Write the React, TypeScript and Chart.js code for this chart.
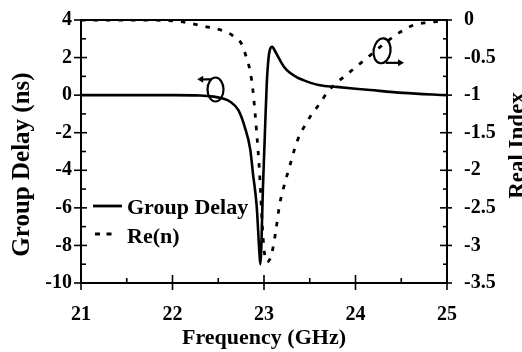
import React, { useEffect, useRef } from 'react';
import { Chart, registerables } from 'chart.js';

Chart.register(...registerables);

// ---- data ----
const groupDelayFreq = [
  21.0, 21.5, 22.0, 22.3, 22.45, 22.55, 22.63, 22.72, 22.79, 22.85, 22.88, 22.92, 22.95, 22.96,
  22.99, 23.01, 23.03, 23.05, 23.07, 23.09, 23.12, 23.17, 23.22, 23.28, 23.36, 23.43, 23.52,
  23.61, 23.79, 24.0, 24.16, 24.52, 25.0,
];
const groupDelayNs = [
  0, 0, 0, -0.02, -0.08, -0.18, -0.35, -0.8, -1.7, -2.9, -4.2, -5.9, -8.4, -9.0,
  -4.7, -2.0, 0.6, 2.0, 2.5, 2.58, 2.35, 1.9, 1.5, 1.2, 0.95, 0.8, 0.64,
  0.53, 0.44, 0.34, 0.27, 0.12, 0.0,
];
const reIndexFreq = [
  21.0, 21.5, 22.0, 22.2, 22.37, 22.52, 22.65, 22.76, 22.81, 22.85, 22.88, 22.92, 22.95, 22.98,
  23.0, 23.03, 23.07, 23.1, 23.13, 23.17, 23.21, 23.28, 23.36, 23.43, 23.52, 23.61, 23.7,
  23.81, 23.92, 24.03, 24.16, 24.36, 24.49, 24.63, 24.78, 24.92, 25.0,
];
const reIndexValues = [
  0, 0, -0.01, -0.045, -0.09, -0.13, -0.2, -0.33, -0.51, -0.69, -0.95, -1.5, -2.0, -2.7,
  -3.05, -3.22, -3.17, -3.02, -2.8, -2.46, -2.25, -1.95, -1.62, -1.44, -1.26, -1.11, -0.95,
  -0.82, -0.71, -0.6, -0.47, -0.27, -0.16, -0.07, -0.035, -0.02, -0.015,
];
const seriesNames = ['Group Delay', 'Re(n)'];
const xRange = [21, 25];
const leftRange = [-10, 4];
const rightRange = [-3.5, 0];
const xStep = 1;
const leftStep = 2;
const rightStep = 0.5;

// annotation loops (data units)
const leftLoop = { cx: 22.47, cy: 0.3, arrowY: 0.84, arrowFrom: 22.42, arrowTo: 22.27 };
const rightLoop = { cx: 24.29, cy: -0.41, arrowY: -0.57, arrowFrom: 24.33, arrowTo: 24.53 };

const FONT = "'Liberation Serif', 'Times New Roman', serif";

const fmt = (v: any) => String(Math.round(Number(v) * 100) / 100);

const decorPlugin = {
  id: 'decor',
  afterDraw(chart: any) {
    const { ctx, chartArea: ca, scales } = chart;
    const xs = scales.x;
    const yl = scales.y;
    const yr = scales.y2;
    ctx.save();
    ctx.strokeStyle = '#000';
    ctx.fillStyle = '#000';
    // top frame line
    ctx.lineWidth = 2;
    ctx.beginPath();
    ctx.moveTo(ca.left - 1, ca.top);
    ctx.lineTo(ca.right + 1, ca.top);
    ctx.stroke();

    ctx.lineWidth = 1.6;
    // x ticks
    for (let v = xRange[0]; v <= xRange[1] + 1e-9; v += xStep / 2) {
      const px = xs.getPixelForValue(v);
      const major = Math.abs(v - Math.round(v)) < 1e-6;
      ctx.beginPath();
      ctx.moveTo(px, ca.bottom - (major ? 8 : 5));
      ctx.lineTo(px, ca.bottom + (major ? 7 : 0));
      ctx.stroke();
    }
    // left ticks
    for (let v = leftRange[0]; v <= leftRange[1] + 1e-9; v += leftStep / 2) {
      const py = yl.getPixelForValue(v);
      const major = Math.abs(v / leftStep - Math.round(v / leftStep)) < 1e-6;
      ctx.beginPath();
      ctx.moveTo(ca.left - (major ? 7 : 0), py);
      ctx.lineTo(ca.left + (major ? 6 : 5), py);
      ctx.stroke();
    }
    // right ticks
    for (let v = rightRange[0]; v <= rightRange[1] + 1e-9; v += rightStep / 2) {
      const py = yr.getPixelForValue(v);
      const major = Math.abs(v / rightStep - Math.round(v / rightStep)) < 1e-6;
      ctx.beginPath();
      ctx.moveTo(ca.right - (major ? 7 : 4), py);
      ctx.lineTo(ca.right + (major ? 5 : 0), py);
      ctx.stroke();
    }

    // loops with arrows
    const arrowHead = (x: number, y: number, dir: number) => {
      ctx.beginPath();
      ctx.moveTo(x, y);
      ctx.lineTo(x - dir * 6, y - 3.5);
      ctx.lineTo(x - dir * 6, y + 3.5);
      ctx.closePath();
      ctx.fill();
    };
    ctx.lineWidth = 2.2;
    {
      const cx = xs.getPixelForValue(leftLoop.cx);
      const cy = yl.getPixelForValue(leftLoop.cy);
      ctx.beginPath();
      ctx.ellipse(cx, cy, 8, 12, 0, 0, Math.PI * 2);
      ctx.stroke();
      const ay = yl.getPixelForValue(leftLoop.arrowY);
      const a0 = xs.getPixelForValue(leftLoop.arrowFrom);
      const a1 = xs.getPixelForValue(leftLoop.arrowTo);
      ctx.beginPath();
      ctx.moveTo(a0, ay);
      ctx.lineTo(a1 + 4, ay);
      ctx.stroke();
      arrowHead(a1, ay, -1);
    }
    {
      const cx = xs.getPixelForValue(rightLoop.cx);
      const cy = yr.getPixelForValue(rightLoop.cy);
      ctx.beginPath();
      ctx.ellipse(cx, cy, 8.5, 12.5, 0.15, 0, Math.PI * 2);
      ctx.stroke();
      const ay = yr.getPixelForValue(rightLoop.arrowY);
      const a0 = xs.getPixelForValue(rightLoop.arrowFrom);
      const a1 = xs.getPixelForValue(rightLoop.arrowTo);
      ctx.beginPath();
      ctx.moveTo(a0, ay);
      ctx.lineTo(a1 - 4, ay);
      ctx.stroke();
      arrowHead(a1, ay, 1);
    }

    // legend inside plot
    const lx = ca.left + 12;
    ctx.font = `bold 22px ${FONT}`;
    ctx.textBaseline = 'alphabetic';
    ctx.textAlign = 'left';
    ctx.lineWidth = 2.8;
    ctx.beginPath();
    ctx.moveTo(lx, ca.top + 186);
    ctx.lineTo(lx + 29, ca.top + 186);
    ctx.stroke();
    ctx.fillText(seriesNames[0], lx + 34, ca.top + 193.5);
    ctx.setLineDash([5, 6.5]);
    ctx.beginPath();
    ctx.moveTo(lx + 2, ca.top + 214);
    ctx.lineTo(lx + 20, ca.top + 214);
    ctx.stroke();
    ctx.setLineDash([]);
    ctx.fillText(seriesNames[1], lx + 34, ca.top + 222.5);

    // vertical axis titles
    ctx.textAlign = 'center';
    ctx.font = `bold 25px ${FONT}`;
    ctx.save();
    ctx.translate(29, (ca.top + ca.bottom) / 2 + 13);
    ctx.rotate(-Math.PI / 2);
    ctx.fillText('Group Delay (ns)', 0, 0);
    ctx.restore();
    ctx.font = `bold 23px ${FONT}`;
    ctx.save();
    ctx.translate(524, (ca.top + ca.bottom) / 2 - 6);
    ctx.rotate(-Math.PI / 2);
    ctx.fillText('Real Index', 0, 0);
    ctx.restore();

    ctx.restore();
  },
};

export default function App() {
  const ref = useRef<HTMLCanvasElement | null>(null);
  useEffect(() => {
    if (!ref.current) return;
    const tickFont = { family: FONT, size: 20, weight: 'bold' as const };
    const chart = new Chart(ref.current, {
      type: 'line',
      data: {
        datasets: [
          {
            label: seriesNames[0],
            data: groupDelayFreq.map((f, i) => ({ x: f, y: groupDelayNs[i] })),
            yAxisID: 'y',
            borderColor: '#000',
            borderWidth: 2.6,
            pointRadius: 0,
            cubicInterpolationMode: 'monotone',
            fill: false,
          },
          {
            label: seriesNames[1],
            data: reIndexFreq.map((f, i) => ({ x: f, y: reIndexValues[i] })),
            yAxisID: 'y2',
            borderColor: '#000',
            borderWidth: 2.8,
            borderDash: [4.5, 8],
            pointRadius: 0,
            cubicInterpolationMode: 'monotone',
            fill: false,
          },
        ],
      },
      options: {
        responsive: false,
        animation: false,
        layout: { padding: { top: 20, left: 0, right: 0, bottom: 0 } },
        plugins: { legend: { display: false }, tooltip: { enabled: false } },
        scales: {
          x: {
            type: 'linear',
            min: xRange[0],
            max: xRange[1],
            ticks: { stepSize: xStep, font: tickFont, color: '#000', padding: 20, maxRotation: 0, callback: fmt },
            grid: { display: false, drawTicks: false },
            border: { display: true, color: '#000', width: 2 },
            title: {
              display: true,
              text: 'Frequency (GHz)',
              color: '#000',
              font: { family: FONT, size: 22, weight: 'bold', lineHeight: 1.2 },
              padding: { top: 0, bottom: 0 },
            },
            afterFit: (s: any) => { s.height = 69; s.paddingLeft = 0; s.paddingRight = 0; },
          },
          y: {
            type: 'linear',
            position: 'left',
            min: leftRange[0],
            max: leftRange[1],
            ticks: { stepSize: leftStep, font: tickFont, color: '#000', padding: 9, callback: fmt },
            grid: { display: false, drawTicks: false },
            border: { display: true, color: '#000', width: 2 },
            afterFit: (s: any) => { s.width = 81; s.paddingTop = 0; s.paddingBottom = 0; },
          },
          y2: {
            type: 'linear',
            position: 'right',
            min: rightRange[0],
            max: rightRange[1],
            ticks: { stepSize: rightStep, font: tickFont, color: '#000', padding: 17, callback: fmt },
            grid: { display: false, drawTicks: false },
            border: { display: true, color: '#000', width: 2 },
            afterFit: (s: any) => { s.width = 75; s.paddingTop = 0; s.paddingBottom = 0; },
          },
        },
      },
      plugins: [decorPlugin],
    } as any);
    return () => chart.destroy();
  }, []);
  return (
    <div style={{ position: 'absolute', left: 0, top: 0, width: 522, height: 352, background: '#fff' }}>
      <canvas ref={ref} width={522} height={352} style={{ display: 'block', width: 522, height: 352 }} />
    </div>
  );
}
